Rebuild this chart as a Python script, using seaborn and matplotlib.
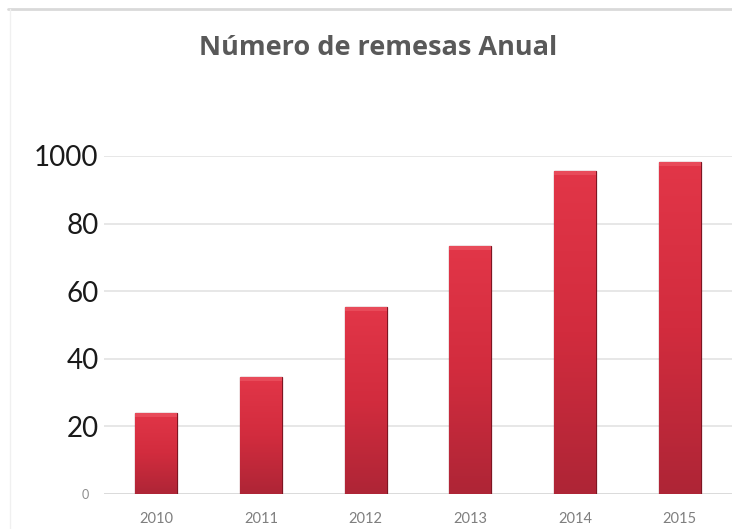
import matplotlib
matplotlib.use("Agg")
import matplotlib.pyplot as plt
import seaborn as sns
import numpy as np
import pandas as pd
from matplotlib.colors import LinearSegmentedColormap
from matplotlib.lines import Line2D
from matplotlib.transforms import ScaledTranslation

years = ["2010", "2011", "2012", "2013", "2014", "2015"]
remesas = [24, 34.6, 55.3, 73.4, 95.6, 98.2]
ytick_values = [0, 20, 40, 60, 80, 100]
ytick_labels = ["0", "20", "40", "60", "80", "1000"]
title = "Número de remesas Anual"

df = pd.DataFrame({"year": years, "value": remesas})

sns.set_theme(style="white")
plt.rcParams["font.family"] = ["Lato", "DejaVu Sans"]

fig = plt.figure(figsize=(7.32, 5.29), dpi=100)
ax = fig.add_axes([104 / 732, 1 - 494 / 529, 1 - 104 / 732, (494 - 156) / 529])

sns.barplot(data=df, x="year", y="value", color="#D8303F", width=0.40,
            edgecolor="#7E1522", linewidth=0.9, ax=ax, zorder=3)

# vertical gradient on each bar
cmap = LinearSegmentedColormap.from_list("bar", ["#AE2536", "#D22C3E", "#E23648"])
grad = np.linspace(0, 1, 256).reshape(-1, 1)
for p in list(ax.patches):
    x0, y0 = p.get_x(), p.get_y()
    w, h = p.get_width(), p.get_height()
    im = ax.imshow(grad, cmap=cmap, origin="lower", aspect="auto",
                   extent=(x0, x0 + w, y0, y0 + h), zorder=3.5)
    im.set_clip_path(p)
    ax.fill_between([x0, x0 + w], y0 + h - 1.2, y0 + h, color="#EE5A68",
                    alpha=0.6, zorder=3.6, linewidth=0)

ax.set_xlim(-0.5, 5.5)
ax.set_ylim(0, 100)
ax.set_yticks(ytick_values)
ax.set_yticklabels(ytick_labels)
ax.tick_params(axis="y", pad=4, length=0)
for lbl in ax.get_yticklabels():
    if lbl.get_text() == "0":
        lbl.set_fontsize(9)
        lbl.set_color("#8C8C8C")
        lbl.set_transform(lbl.get_transform() + ScaledTranslation(-10 / 100, 0, fig.dpi_scale_trans))
    else:
        lbl.set_fontsize(20)
        lbl.set_color("#1A1A1A")
ax.tick_params(axis="x", labelsize=10.5, labelcolor="#7F7F7F", pad=13, length=0)
ax.set_xlabel("")
ax.set_ylabel("")
ax.yaxis.grid(True, color="#E3E3E3", linewidth=1.2, zorder=0)
ax.set_axisbelow(True)
for s in ax.spines.values():
    s.set_visible(False)
ax.axhline(0, color="#D9D9D9", linewidth=1.2, zorder=2)

fig.text(378 / 732, 1 - 48 / 529, title, ha="center", va="center",
         fontsize=19.5, fontweight="bold", color="#595959",
         family=["Open Sans", "DejaVu Sans"])

fig.add_artist(Line2D([8 / 732, 1], [1 - 9 / 529, 1 - 9 / 529],
                      transform=fig.transFigure, color="#D9D9D9", linewidth=2))
fig.add_artist(Line2D([10 / 732, 10 / 732], [0, 1 - 9 / 529],
                      transform=fig.transFigure, color="#F0F0F0", linewidth=1))

fig.savefig("out.png", dpi=100)
